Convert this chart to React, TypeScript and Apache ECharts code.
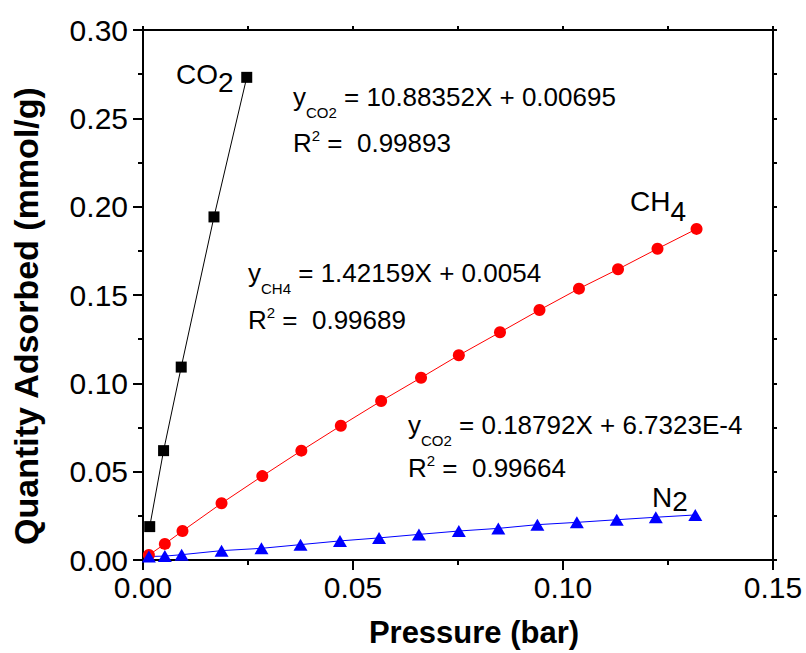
import React, { useEffect, useRef } from 'react';
import * as echarts from 'echarts';

const FONT = '"Liberation Sans", Arial, sans-serif';

// Pressure (bar) and quantity adsorbed (mmol/g) for each gas
const co2Pressure = [0.0016, 0.0049, 0.0091, 0.0169, 0.0247];
const co2Quantity = [0.0189, 0.0619, 0.1092, 0.1942, 0.2732];

const ch4Pressure = [0.0014, 0.0052, 0.0094, 0.0187, 0.0284, 0.0377, 0.0471, 0.0567, 0.0662, 0.0752, 0.085, 0.0944, 0.1038, 0.1131, 0.1225, 0.1318];
const ch4Quantity = [0.0028, 0.0091, 0.0164, 0.0321, 0.0475, 0.0619, 0.076, 0.09, 0.1032, 0.1159, 0.1289, 0.1415, 0.1536, 0.1646, 0.1762, 0.1874];

const n2Pressure = [0.0014, 0.0052, 0.0092, 0.0187, 0.0282, 0.0375, 0.0469, 0.0562, 0.0657, 0.0752, 0.0846, 0.0939, 0.1033, 0.1128, 0.1221, 0.1315];
const n2Quantity = [0.002, 0.0022, 0.003, 0.0053, 0.0066, 0.0087, 0.0108, 0.0125, 0.0145, 0.0164, 0.0179, 0.02, 0.0213, 0.0228, 0.0242, 0.0255];

// Fit annotations
const co2Fit = { eq: ' = 10.88352X + 0.00695', r2: ' =  0.99893', sub: 'CO2' };
const ch4Fit = { eq: ' = 1.42159X + 0.0054', r2: ' =  0.99689', sub: 'CH4' };
const n2Fit = { eq: ' = 0.18792X + 6.7323E-4', r2: ' =  0.99664', sub: 'CO2' };

const zip = (xs: number[], ys: number[]) => xs.map((x, i) => [x, ys[i]]);

const eqRich = {
  m: { fontSize: 26, fontFamily: FONT, color: '#000' },
  sub: { fontSize: 15, fontFamily: FONT, color: '#000', padding: [30, 0, 0, 0] },
  sup: { fontSize: 15, fontFamily: FONT, color: '#000', padding: [0, 0, 16, 0] },
};

const eqText = (x: number, y: number, text: string) => ({
  type: 'text',
  x,
  y,
  style: { text, rich: eqRich, textAlign: 'left', verticalAlign: 'middle' },
});

const gasLabel = (x: number, y: number, main: string, sub: string, drop: number) => ({
  type: 'text',
  x,
  y,
  style: {
    text: `{m|${main}}{s|${sub}}`,
    textAlign: 'left',
    verticalAlign: 'middle',
    rich: {
      m: { fontSize: 28, fontFamily: FONT, color: '#000' },
      s: { fontSize: 28, fontFamily: FONT, color: '#000', padding: [drop * 2, 0, 0, 0] },
    },
  },
});

const axisCommon = {
  type: 'value' as const,
  axisLine: { show: true, onZero: false, lineStyle: { color: '#000', width: 2 } },
  splitLine: { show: false },
  minorSplitLine: { show: false },
};

export default function App() {
  const ref = useRef<HTMLDivElement>(null);

  useEffect(() => {
    document.body.style.margin = '0';
    const chart = echarts.init(ref.current!, null, { renderer: 'svg' });
    chart.setOption({
      animation: false,
      backgroundColor: '#fff',
      grid: { left: 143, right: 33, top: 30, bottom: 93, containLabel: false, outerBoundsMode: 'none' },
      xAxis: [
        {
          ...axisCommon,
          position: 'bottom',
          min: 0,
          max: 0.15,
          interval: 0.05,
          axisTick: { show: true, inside: false, length: 10, lineStyle: { color: '#000', width: 2 } },
          minorTick: { show: true, splitNumber: 2, length: 5, lineStyle: { color: '#000', width: 2 } },
          axisLabel: {
            margin: 12,
            fontSize: 30,
            fontFamily: FONT,
            color: '#000',
            formatter: (v: number) => v.toFixed(2),
          },
        },
        {
          ...axisCommon,
          position: 'top',
          min: 0,
          max: 0.15,
          interval: 0.025,
          axisTick: { show: true, inside: false, length: 4, lineStyle: { color: '#000', width: 2 } },
          axisLabel: { show: false },
        },
      ],
      yAxis: [
        {
          ...axisCommon,
          position: 'left',
          min: 0,
          max: 0.3,
          interval: 0.05,
          axisTick: { show: true, inside: false, length: 10, lineStyle: { color: '#000', width: 2 } },
          minorTick: { show: true, splitNumber: 2, length: 5, lineStyle: { color: '#000', width: 2 } },
          axisLabel: {
            margin: 15,
            fontSize: 30,
            fontFamily: FONT,
            color: '#000',
            formatter: (v: number) => v.toFixed(2),
          },
        },
        {
          ...axisCommon,
          position: 'right',
          min: 0,
          max: 0.3,
          interval: 0.025,
          axisTick: { show: true, inside: false, length: 4, lineStyle: { color: '#000', width: 2 } },
          axisLabel: { show: false },
        },
      ],
      series: [
        {
          name: 'CO2',
          type: 'line',
          data: zip(co2Pressure, co2Quantity),
          symbol: 'rect',
          symbolSize: 11,
          clip: false,
          lineStyle: { color: '#000', width: 1 },
          itemStyle: { color: '#000' },
        },
        {
          name: 'CH4',
          type: 'line',
          data: zip(ch4Pressure, ch4Quantity),
          symbol: 'circle',
          symbolSize: 12,
          clip: false,
          lineStyle: { color: '#ff0000', width: 1 },
          itemStyle: { color: '#ff0000' },
        },
        {
          name: 'N2',
          type: 'line',
          data: zip(n2Pressure, n2Quantity),
          symbol: 'triangle',
          symbolSize: [14, 12],
          clip: false,
          lineStyle: { color: '#0000ff', width: 1 },
          itemStyle: { color: '#0000ff' },
        },
      ],
      graphic: [
        gasLabel(176, 74, 'CO', '2', 8),
        gasLabel(630, 201, 'CH', '4', 10),
        gasLabel(652, 497, 'N', '2', 4),
        eqText(293, 97, `{m|y}{sub|${co2Fit.sub}}{m|${co2Fit.eq}}`),
        eqText(293, 143, `{m|R}{sup|2}{m|${co2Fit.r2}}`),
        eqText(248, 273, `{m|y}{sub|${ch4Fit.sub}}{m|${ch4Fit.eq}}`),
        eqText(248, 320, `{m|R}{sup|2}{m|${ch4Fit.r2}}`),
        eqText(408, 425, `{m|y}{sub|${n2Fit.sub}}{m|${n2Fit.eq}}`),
        eqText(408, 468, `{m|R}{sup|2}{m|${n2Fit.r2}}`),
        {
          type: 'text',
          x: 474,
          y: 632,
          style: {
            text: 'Pressure (bar)',
            fontSize: 31,
            fontWeight: 'bold',
            fontFamily: FONT,
            fill: '#000',
            textAlign: 'center',
            verticalAlign: 'middle',
          },
        },
        {
          type: 'text',
          x: 26,
          y: 316,
          rotation: Math.PI / 2,
          style: {
            text: 'Quantity Adsorbed (mmol/g)',
            fontSize: 34,
            fontWeight: 'bold',
            fontFamily: FONT,
            fill: '#000',
            textAlign: 'center',
            verticalAlign: 'middle',
          },
        },
      ],
    });
    return () => chart.dispose();
  }, []);

  return <div ref={ref} style={{ width: 806, height: 653 }} />;
}
